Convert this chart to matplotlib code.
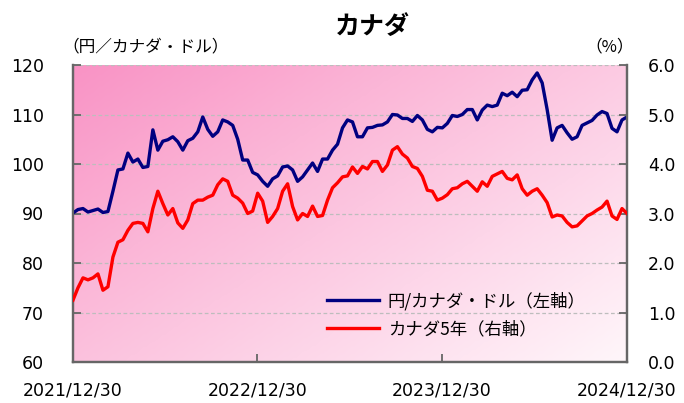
import numpy as np
import pandas as pd
import matplotlib
matplotlib.use("Agg")
import matplotlib.pyplot as plt
from matplotlib.colors import LinearSegmentedColormap

plt.rcParams['font.family'] = ['Noto Sans CJK JP', 'DejaVu Sans']

# ---- data ----
start_date = "2021-12-30"
end_date = "2024-12-30"
jpy_cad = [90.1, 90.8, 91.0, 90.3, 90.6, 90.9, 90.2, 90.4, 94.5, 98.8,
           99.0, 102.2, 100.4, 101.0, 99.3, 99.5, 106.9, 102.8, 104.6, 104.9,
           105.5, 104.5, 102.8, 104.7, 105.2, 106.5, 109.5, 107.0, 105.6, 106.5,
           108.9, 108.5, 107.8, 105.0, 100.8, 100.8, 98.3, 97.8, 96.5, 95.5,
           97.0, 97.6, 99.4, 99.6, 98.8, 96.5, 97.4, 98.8, 100.2, 98.5,
           101.0, 101.0, 102.8, 104.0, 107.3, 108.9, 108.5, 105.5, 105.5, 107.3,
           107.4, 107.8, 107.9, 108.5, 110.0, 109.9, 109.2, 109.2, 108.6, 109.8,
           108.9, 107.0, 106.5, 107.4, 107.3, 108.2, 109.8, 109.6, 110.0, 111.0,
           111.0, 108.9, 110.9, 111.9, 111.6, 111.9, 114.3, 113.8, 114.5, 113.6,
           114.9, 115.0, 117.0, 118.4, 116.4, 111.0, 104.8, 107.3, 107.8, 106.3,
           105.0, 105.5, 107.8, 108.3, 108.8, 109.9, 110.6, 110.2, 107.2, 106.5,
           108.9, 109.5]
cad_5y = [1.25, 1.5, 1.7, 1.66, 1.7, 1.78, 1.45, 1.52, 2.12, 2.42,
          2.47, 2.66, 2.8, 2.82, 2.8, 2.63, 3.1, 3.45, 3.2, 2.97,
          3.1, 2.81, 2.7, 2.87, 3.2, 3.27, 3.27, 3.33, 3.37, 3.58,
          3.7, 3.65, 3.37, 3.31, 3.21, 3.0, 3.05, 3.41, 3.25, 2.82,
          2.94, 3.1, 3.45, 3.6, 3.14, 2.87, 3.0, 2.94, 3.15, 2.94,
          2.96, 3.27, 3.52, 3.62, 3.74, 3.76, 3.94, 3.81, 3.95, 3.9,
          4.05, 4.05, 3.85, 3.98, 4.28, 4.35, 4.2, 4.12, 3.95, 3.91,
          3.75, 3.47, 3.45, 3.27, 3.31, 3.38, 3.5, 3.52, 3.6, 3.65,
          3.55, 3.45, 3.64, 3.55, 3.75, 3.8, 3.85, 3.71, 3.68, 3.78,
          3.5, 3.37, 3.45, 3.5, 3.37, 3.22, 2.93, 2.97, 2.95, 2.82,
          2.73, 2.75, 2.85, 2.95, 3.0, 3.07, 3.13, 3.25, 2.95, 2.88,
          3.1, 3.0]
x_tick_labels = ["2021/12/30", "2022/12/30", "2023/12/30", "2024/12/30"]
left_ticks = [60, 70, 80, 90, 100, 110, 120]
right_ticks = [0.0, 1.0, 2.0, 3.0, 4.0, 5.0, 6.0]
label_fx = "円/カナダ・ドル（左軸）"
label_rate = "カナダ5年（右軸）"
title = "カナダ"
left_unit = "（円／カナダ・ドル）"
right_unit = "（%）"

dates = pd.date_range(start_date, end_date, periods=len(jpy_cad))
tick_dates = pd.to_datetime([s.replace("/", "-") for s in x_tick_labels])

# ---- figure ----
W, H = 684, 403
fig = plt.figure(figsize=(W / 100, H / 100), dpi=100)
L, R, T, B = 73, 627, 65, 362
ax = fig.add_axes([L / W, 1 - B / H, (R - L) / W, (B - T) / H])
ax2 = ax.twinx()

# gradient background (dark pink top-left -> near white bottom-right)
cmap = LinearSegmentedColormap.from_list(
    "pinkgrad", ["#F993C5", "#FBB6D7", "#FDD6E9", "#FFF6FA"])
nx, ny = 200, 120
gx, gy = np.meshgrid(np.linspace(0, 1, nx), np.linspace(0, 1, ny))
grad = (gx * 0.55 + gy * 0.45)
ax.imshow(grad, cmap=cmap, extent=[0, 1, 0, 1], origin="upper",
          transform=ax.transAxes, aspect="auto", zorder=0,
          interpolation="bilinear")

ax.set_xlim(dates[0], dates[-1])
ax.set_ylim(60, 120)
ax2.set_ylim(0, 6)

for y in left_ticks[1:]:
    ax.axhline(y, color="#BDBDBD", lw=0.9, ls=(0, (3, 2)), zorder=1)

l1, = ax.plot(dates, jpy_cad, color="#000080", lw=2.4, zorder=3, label=label_fx)
l2, = ax2.plot(dates, cad_5y, color="#FF0000", lw=2.4, zorder=3, label=label_rate)

tick_font = dict(family="DejaVu Sans", size=12.5)
ax.set_yticks(left_ticks)
ax.set_yticklabels([str(v) for v in left_ticks], fontdict=tick_font)
ax2.set_yticks(right_ticks)
ax2.set_yticklabels([f"{v:.1f}" for v in right_ticks], fontdict=tick_font)
ax.set_xticks(tick_dates)
ax.set_xticklabels(x_tick_labels, fontdict=tick_font)

spine_c = "#666666"
for a in (ax, ax2):
    a.spines["top"].set_visible(False)
    for s in ("left", "right", "bottom"):
        a.spines[s].set_color(spine_c)
        a.spines[s].set_linewidth(1.6)

ax.tick_params(axis="y", direction="in", length=6, width=1.3, color=spine_c,
               pad=21)
ax2.tick_params(axis="y", direction="in", length=6, width=1.3, color=spine_c,
                pad=15)
ax.tick_params(axis="x", direction="in", length=6, width=1.3, color=spine_c,
               pad=14)

fig.text(372 / W, 1 - 27 / H, title, ha="center", va="center",
         fontsize=18, fontweight="bold")
fig.text(62 / W, 1 - 47 / H, left_unit, ha="left", va="center", fontsize=12)
fig.text(634 / W, 1 - 47 / H, right_unit, ha="right", va="center", fontsize=12)

leg = ax.legend(handles=[l1, l2], loc="center left",
                bbox_to_anchor=((327 - L) / (R - L), (B - 315) / (B - T)),
                frameon=False, fontsize=12.5, handlelength=3.0,
                handletextpad=0.5, labelspacing=0.55,
                borderpad=0, borderaxespad=0)
leg.set_zorder(5)

fig.savefig("out.png", dpi=100)
